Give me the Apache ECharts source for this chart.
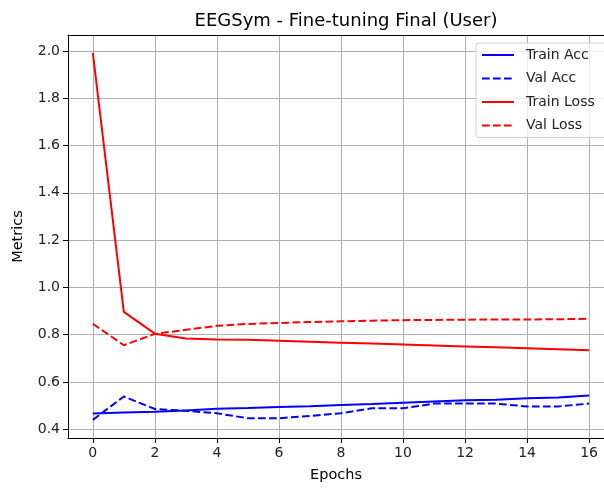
<!DOCTYPE html>
<html>
<head>
<meta charset="utf-8">
<script src="https://cdn.jsdelivr.net/npm/echarts@6/dist/echarts.min.js"></script>
<style>
  html, body { margin: 0; padding: 0; background: #fff; }
  #chart { width: 604px; height: 488px; }
</style>
</head>
<body>
<div id="chart"></div>
<script>
const epochs = [0, 1, 2, 3, 4, 5, 6, 7, 8, 9, 10, 11, 12, 13, 14, 15, 16]
const trainAcc = [0.466, 0.470, 0.474, 0.479, 0.486, 0.489, 0.494, 0.497, 0.502, 0.506, 0.512, 0.517, 0.522, 0.524, 0.531, 0.534, 0.542]
const valAcc = [0.439, 0.538, 0.485, 0.478, 0.467, 0.446, 0.446, 0.456, 0.467, 0.488, 0.488, 0.508, 0.508, 0.508, 0.496, 0.496, 0.508]
const trainLoss = [1.992, 0.896, 0.804, 0.783, 0.779, 0.778, 0.774, 0.770, 0.766, 0.762, 0.758, 0.754, 0.750, 0.746, 0.742, 0.738, 0.734]
const valLoss = [0.846, 0.755, 0.803, 0.820, 0.837, 0.845, 0.849, 0.853, 0.856, 0.859, 0.861, 0.862, 0.863, 0.864, 0.864, 0.865, 0.867]
const xTicks = [0, 2, 4, 6, 8, 10, 12, 14, 16]
const yTicks = [0.4, 0.6, 0.8, 1.0, 1.2, 1.4, 1.6, 1.8, 2.0]

const font = 'DejaVu Sans'
const dash = [7.7, 3.3]
// the reference is cropped on the right, so the x range stops where the window ends
const xMin = -0.8
const xMax = 16.48

const pairs = (ys) => epochs.map((x, i) => [x, ys[i]])

const makeSeries = (name, ys, color, dashed) => ({
  name: name,
  type: 'line',
  data: pairs(ys),
  symbol: 'none',
  animation: false,
  lineStyle: { color: color, width: 2, type: dashed ? dash : 'solid' },
  itemStyle: { color: color }
})

const chart = echarts.init(document.getElementById('chart'))
chart.setOption({
  animation: false,
  title: {
    text: 'EEGSym - Fine-tuning Final (User)',
    left: 341,
    top: 7,
    textAlign: 'center',
    textStyle: { fontFamily: font, fontSize: 18, fontWeight: 'normal', color: '#000' }
  },
  grid: {
    left: 68,
    top: 35,
    right: 0,
    bottom: 48
  },
  legend: {
    left: 476,
    top: 43,
    orient: 'vertical',
    itemWidth: 32,
    itemHeight: 12,
    itemGap: 9.5,
    padding: [5, 40, 5, 5],
    backgroundColor: 'rgba(255,255,255,0.8)',
    borderColor: '#d0d0d0',
    borderWidth: 1,
    borderRadius: 3,
    itemStyle: { opacity: 0 },
    textStyle: { fontFamily: font, fontSize: 14, color: '#222', padding: [0, 0, 0, 7] },
    data: ['Train Acc', 'Val Acc', 'Train Loss', 'Val Loss']
  },
  xAxis: [
    {
      type: 'value',
      min: xMin,
      max: xMax,
      name: 'Epochs',
      nameLocation: 'middle',
      nameGap: 30,
      nameTextStyle: { fontFamily: font, fontSize: 14.5, color: '#000' },
      axisLine: { show: true, onZero: false, lineStyle: { color: '#000', width: 1 } },
      axisTick: { show: true, length: 5, customValues: xTicks, lineStyle: { color: '#000' } },
      axisLabel: { customValues: xTicks, fontFamily: font, fontSize: 14, color: '#222', margin: 8 },
      splitLine: { show: true, lineStyle: { color: '#b0b0b0', width: 1 } }
    },
    {
      type: 'value',
      position: 'top',
      min: xMin,
      max: xMax,
      axisLine: { show: true, onZero: false, lineStyle: { color: '#000', width: 1 } },
      axisTick: { show: false },
      axisLabel: { show: false },
      splitLine: { show: false }
    }
  ],
  yAxis: {
    type: 'value',
    min: 0.3625,
    max: 2.0675,
    name: 'Metrics',
    nameLocation: 'middle',
    nameGap: 42,
    nameTextStyle: { fontFamily: font, fontSize: 14.5, color: '#000' },
    axisLine: { show: true, onZero: false, lineStyle: { color: '#000', width: 1 } },
    axisTick: { show: true, length: 5, customValues: yTicks, lineStyle: { color: '#000' } },
    axisLabel: {
      customValues: yTicks,
      fontFamily: font,
      fontSize: 14,
      color: '#222',
      margin: 8,
      formatter: (v) => v.toFixed(1)
    },
    splitLine: { show: true, lineStyle: { color: '#b0b0b0', width: 1 } }
  },
  series: [
    makeSeries('Train Acc', trainAcc, '#0000ff', false),
    makeSeries('Val Acc', valAcc, '#0000ff', true),
    makeSeries('Train Loss', trainLoss, '#ff0000', false),
    makeSeries('Val Loss', valLoss, '#ff0000', true)
  ]
})
</script>
</body>
</html>
